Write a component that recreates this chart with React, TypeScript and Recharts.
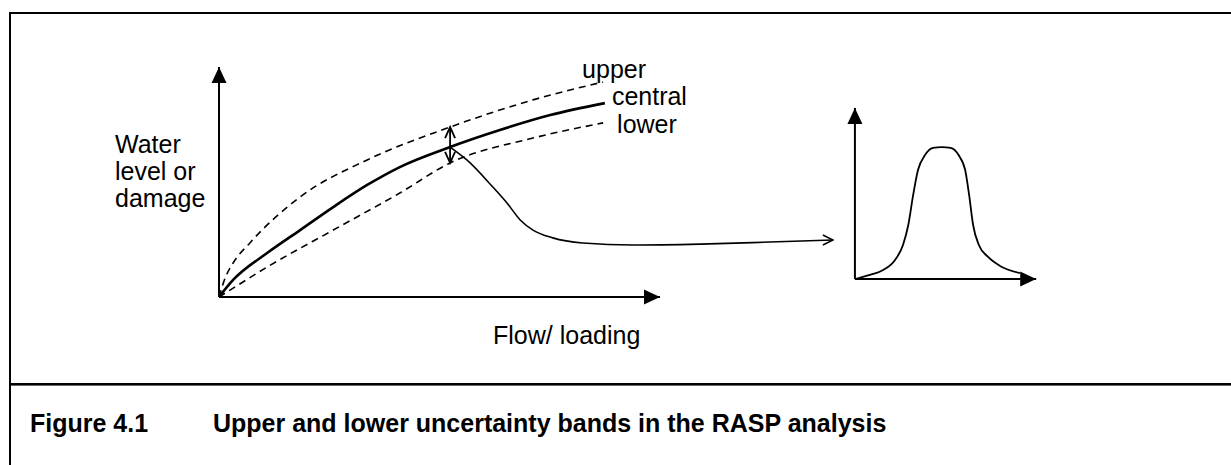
import React from 'react';
import { LineChart, Line, XAxis, YAxis, ReferenceDot } from 'recharts';

const W = 1231;
const H = 465;
const FONT = '"Liberation Sans", Arial, Helvetica, sans-serif';

// Diagram units: x = flow/loading (main axis 0..100), y = level/damage (0..100)
const mainYAxis = [{ x: 0, y: 0 }, { x: 0, y: 100 }];
const mainXAxis = [{ x: 0, y: 0 }, { x: 100, y: 0 }];

const upperBand = [
  { x: 0, y: 0 }, { x: 1.4, y: 8.3 }, { x: 3.2, y: 14.8 }, { x: 7.0, y: 23.5 },
  { x: 18.4, y: 43.5 }, { x: 33.6, y: 59.6 }, { x: 52.4, y: 73.9 },
  { x: 71.2, y: 85.7 }, { x: 87.1, y: 93.5 },
];
const centralBand = [
  { x: 0, y: 0 }, { x: 3.2, y: 7.4 }, { x: 10.9, y: 19.1 }, { x: 18.4, y: 29.1 },
  { x: 25.9, y: 39.1 }, { x: 33.6, y: 48.7 }, { x: 41.0, y: 56.5 }, { x: 52.4, y: 65.2 },
  { x: 63.7, y: 72.6 }, { x: 75.1, y: 79.1 }, { x: 87.5, y: 84.3 },
];
const lowerBand = [
  { x: 0, y: 0 }, { x: 2.5, y: 3.0 }, { x: 10.9, y: 13.0 }, { x: 25.9, y: 29.1 },
  { x: 41.0, y: 45.2 }, { x: 52.4, y: 58.3 }, { x: 71.2, y: 69.1 }, { x: 87.1, y: 75.7 },
];
const spread = [{ x: 52.4, y: 58.3 }, { x: 52.4, y: 73.9 }];
const transfer = [
  { x: 52.4, y: 65.2 }, { x: 56.2, y: 59.6 }, { x: 62.1, y: 47.8 }, { x: 65.3, y: 40.9 },
  { x: 68.3, y: 33.5 }, { x: 71.2, y: 29.1 }, { x: 75.7, y: 25.7 }, { x: 82.5, y: 23.5 },
  { x: 93.9, y: 22.6 }, { x: 109.1, y: 23.0 }, { x: 124.9, y: 23.9 }, { x: 139.2, y: 24.8 },
];
const insetYAxis = [{ x: 144.2, y: 7.8 }, { x: 144.2, y: 82.2 }];
const insetXAxis = [{ x: 144.2, y: 7.8 }, { x: 185.3, y: 7.8 }];
const distribution = [
  { x: 144.2, y: 7.8 }, { x: 147.6, y: 9.6 }, { x: 150.6, y: 11.7 }, { x: 153.3, y: 16.1 },
  { x: 155.1, y: 22.6 }, { x: 156.3, y: 31.3 }, { x: 157.4, y: 44.3 }, { x: 158.5, y: 55.2 },
  { x: 160.1, y: 61.7 }, { x: 161.9, y: 64.8 }, { x: 163.9, y: 65.2 }, { x: 165.9, y: 64.8 },
  { x: 167.7, y: 61.7 }, { x: 169.2, y: 55.2 }, { x: 170.1, y: 44.3 }, { x: 171.0, y: 31.3 },
  { x: 172.3, y: 22.6 }, { x: 174.4, y: 17.4 }, { x: 177.1, y: 13.5 }, { x: 181.6, y: 10.4 },
];

const yLabelLines = ['Water', 'level or', 'damage'];
const xLabel = 'Flow/ loading';
const bandLabels = ['upper', 'central', 'lower'];
const captionNumber = 'Figure 4.1';
const captionText = 'Upper and lower uncertainty bands in the RASP analysis';

type Head = 'fillUp' | 'fillRight' | 'openUp' | 'openDown' | 'openRight' | null;

const drawHead = (kind: Head, cx: number, cy: number, key: string) => {
  if (kind === 'fillUp')
    return <polygon key={key} points={`${cx},${cy} ${cx - 7.5},${cy + 16} ${cx + 7.5},${cy + 16}`} fill="#000" stroke="none" />;
  if (kind === 'fillRight')
    return <polygon key={key} points={`${cx},${cy} ${cx - 16},${cy - 7.5} ${cx - 16},${cy + 7.5}`} fill="#000" stroke="none" />;
  if (kind === 'openUp')
    return <polyline key={key} points={`${cx - 5},${cy + 11} ${cx},${cy} ${cx + 5},${cy + 11}`} fill="none" stroke="#000" strokeWidth={1.8} />;
  if (kind === 'openDown')
    return <polyline key={key} points={`${cx - 5},${cy - 11} ${cx},${cy} ${cx + 5},${cy - 11}`} fill="none" stroke="#000" strokeWidth={1.8} />;
  if (kind === 'openRight')
    return <polyline key={key} points={`${cx - 10},${cy - 5} ${cx},${cy} ${cx - 10},${cy + 5}`} fill="none" stroke="#000" strokeWidth={1.5} />;
  return <g key={key} />;
};

const heads = (first: Head, last: Head, n: number, id: string) => (p: any) => {
  const kind = p.index === 0 ? first : p.index === n - 1 ? last : null;
  return drawHead(kind, p.cx, p.cy, `${id}-${p.index}`);
};

const textShape = (lines: string[], dx: number, dy: number, lh: number, size = 25) => (p: any) => (
  <g>
    {lines.map((t, i) => (
      <text key={t} x={p.cx + dx} y={p.cy + dy + i * lh} fontFamily={FONT} fontSize={size} fill="#000">
        {t}
      </text>
    ))}
  </g>
);

export default function App() {
  return (
    <div style={{ position: 'absolute', left: 0, top: 0, width: W, height: H, background: '#fff' }}>
      <svg width={W} height={H} style={{ position: 'absolute', left: 0, top: 0 }}>
        <rect x={9} y={12} width={W - 9} height={2} fill="#000" />
        <rect x={9} y={12} width={2} height={H - 12} fill="#000" />
        <rect x={9} y={383} width={W - 9} height={2.6} fill="#000" />
        <text x={30} y={432} fontFamily={FONT} fontWeight="bold" fontSize={25} fill="#000">{captionNumber}</text>
        <text x={213} y={432} fontFamily={FONT} fontWeight="bold" fontSize={25} fill="#000">{captionText}</text>
      </svg>
      <div style={{ position: 'absolute', left: 0, top: 0 }}>
        <LineChart width={W} height={H} margin={{ top: 67, right: 130, bottom: 168, left: 219 }}>
          <XAxis type="number" dataKey="x" domain={[0, 200]} hide />
          <YAxis type="number" dataKey="y" domain={[0, 100]} hide />
          <Line data={mainYAxis} dataKey="y" type="linear" stroke="#000" strokeWidth={2} dot={heads(null, 'fillUp', 2, 'my')} activeDot={false} isAnimationActive={false} />
          <Line data={mainXAxis} dataKey="y" type="linear" stroke="#000" strokeWidth={2} dot={heads(null, 'fillRight', 2, 'mx')} activeDot={false} isAnimationActive={false} />
          <Line data={upperBand} dataKey="y" type="monotone" stroke="#000" strokeWidth={1.6} strokeDasharray="7 5" dot={false} activeDot={false} isAnimationActive={false} />
          <Line data={lowerBand} dataKey="y" type="monotone" stroke="#000" strokeWidth={1.6} strokeDasharray="7 5" dot={false} activeDot={false} isAnimationActive={false} />
          <Line data={centralBand} dataKey="y" type="monotone" stroke="#000" strokeWidth={2.6} dot={false} activeDot={false} isAnimationActive={false} />
          <Line data={spread} dataKey="y" type="linear" stroke="#000" strokeWidth={1.8} dot={heads('openDown', 'openUp', 2, 'sp')} activeDot={false} isAnimationActive={false} />
          <Line data={transfer} dataKey="y" type="monotone" stroke="#000" strokeWidth={1.6} dot={heads(null, 'openRight', transfer.length, 'tr')} activeDot={false} isAnimationActive={false} />
          <Line data={insetYAxis} dataKey="y" type="linear" stroke="#000" strokeWidth={2} dot={heads(null, 'fillUp', 2, 'iy')} activeDot={false} isAnimationActive={false} />
          <Line data={insetXAxis} dataKey="y" type="linear" stroke="#000" strokeWidth={2} dot={heads(null, 'fillRight', 2, 'ix')} activeDot={false} isAnimationActive={false} />
          <Line data={distribution} dataKey="y" type="monotone" stroke="#000" strokeWidth={1.8} dot={false} activeDot={false} isAnimationActive={false} />
          <ReferenceDot x={upperBand[upperBand.length - 1].x} y={upperBand[upperBand.length - 1].y} ifOverflow="visible" shape={textShape([bandLabels[0]], -21, -4, 0)} />
          <ReferenceDot x={centralBand[centralBand.length - 1].x} y={centralBand[centralBand.length - 1].y} ifOverflow="visible" shape={textShape([bandLabels[1]], 7, 2, 0)} />
          <ReferenceDot x={lowerBand[lowerBand.length - 1].x} y={lowerBand[lowerBand.length - 1].y} ifOverflow="visible" shape={textShape([bandLabels[2]], 14, 10, 0)} />
          <ReferenceDot x={mainXAxis[1].x} y={mainXAxis[1].y} ifOverflow="visible" shape={textShape([xLabel], -167, 47, 0)} />
          <ReferenceDot x={mainYAxis[1].x} y={mainYAxis[1].y} ifOverflow="visible" shape={textShape(yLabelLines, -104, 86, 27)} />
        </LineChart>
      </div>
    </div>
  );
}
